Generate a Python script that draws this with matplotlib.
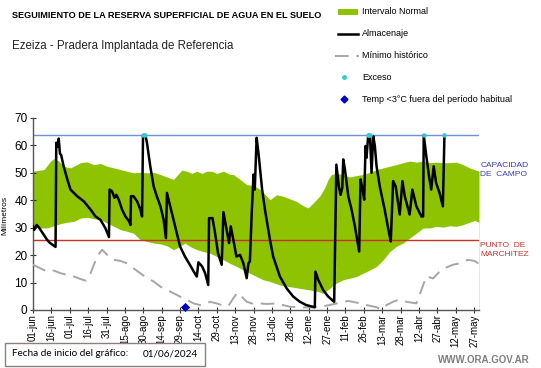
import matplotlib
matplotlib.use("Agg")
import matplotlib.pyplot as plt
from matplotlib.lines import Line2D

plt.rcParams['font.family'] = ['Liberation Sans', 'DejaVu Sans']

# ---------------- data ----------------
tick_days = list(range(0, 361, 15))
tick_labels = ["01-jun", "16-jun", "01-jul", "16-jul", "31-jul", "15-ago", "30-ago",
               "14-sep", "29-sep", "14-oct", "29-oct", "13-nov", "28-nov", "13-dic",
               "28-dic", "12-ene", "27-ene", "11-feb", "26-feb", "13-mar", "28-mar",
               "12-abr", "27-abr", "12-may", "27-may"]

capacidad_campo = 63.8
punto_marchitez = 25.4

alm_days = [0, 1, 3, 5, 8, 11.5, 14, 18.4, 19, 20, 21, 22, 23, 25, 28, 30.6, 36, 41.5, 47, 51,
            55, 59, 62, 62.5, 64.5, 66.5, 68, 70, 72.7, 75.4, 78.5, 79.5, 80, 82, 85, 87.6, 89,
            89.8, 91.7, 93, 95.7, 98.5, 101, 104, 106.6, 108.5, 109.3, 112, 114.7, 117.4, 120,
            124, 128, 132, 133.7, 135, 138, 140.5, 143, 143.7, 146.5, 148.6, 151, 154, 155.4,
            158, 160, 161.4, 163.5, 166, 169, 171.7, 174.4, 175.8, 177, 178.5, 180, 181, 182.5,
            184, 187, 189.3, 193.4, 196, 201.5, 207, 212.4, 217.8, 223, 230, 230.5, 232.8,
            236.8, 240.9, 245.8, 247.6, 249.6, 251, 252.4, 253.2, 254.6, 257.3, 260, 262.7,
            264.6, 266.2, 267.3, 269, 270.3, 271.4, 272.2, 273.6, 275, 276.3, 277.7, 279,
            280.4, 283, 287, 290.6, 292, 293.9, 296, 299.3, 301.5, 303.4, 307.4, 309.6, 312.9,
            317, 318.4, 318.9, 321, 323.2, 325, 327, 329, 331.8, 334.5, 335.8]
alm_vals = [30.5, 29.2, 31, 30, 28, 25.6, 24.4, 23, 61, 59.5, 62.5, 57, 56.5, 52.4, 47.6, 43.9,
            41.5, 39.6, 36.6, 34.1, 32.9, 29.9, 26.6, 43.9, 43.3, 40.9, 42, 40.2, 36.6, 34.1,
            32.3, 31, 41.5, 41.5, 39.6, 36.6, 34.1, 63.8, 63.8, 61, 52.4, 45, 41.5, 37.8, 32.9,
            26.2, 42.7, 37.8, 32.9, 28, 23.2, 19.5, 16.5, 13.4, 12.2, 17.4, 15.9, 13.4, 9.1,
            33.5, 33.5, 28, 20.7, 16.5, 35.7, 29.3, 24.4, 30.5, 25.6, 19.5, 20.1, 17, 11.6, 17,
            17.7, 35.4, 49.4, 43.9, 62.8, 57.3, 43.9, 36.6, 25.6, 19.5, 12.2, 7.9, 4.9, 3.0,
            1.8, 1.0, 14, 11, 7.3, 4.9, 3.0, 53, 45.1, 42, 44.5, 54.9, 51.2, 41.5, 36.6, 30.5,
            25.6, 21.3, 47.6, 43.9, 40.2, 59.8, 55.5, 63.8, 63.8, 50, 63.4, 59.8, 52.4, 45.1,
            36.6, 28, 25, 47, 45.1, 34.8, 47, 41.5, 34.8, 43.9, 37.8, 34.1, 34.1, 63.8, 56.1,
            48.8, 43.9, 52.4, 46.3, 42.7, 37.8, 63.8]

upper_days = [0, 9, 14.4, 17, 21, 25, 30.6, 38.8, 44, 49.6, 55, 60.5, 66, 71.3, 76.8, 82, 87.6,
              93, 98.5, 104, 109.3, 114.7, 117.4, 121.5, 125.6, 129.6, 133.7, 137.8, 141.8, 146,
              150, 155.4, 160.8, 163.5, 169, 174.4, 180, 185, 190.7, 193.4, 198.8, 204, 209.7,
              215, 220.5, 224.6, 228.6, 234, 238, 240.9, 243.6, 247.6, 253, 258.5, 264, 269.4,
              275, 280.4, 285.8, 291.2, 296.6, 302, 307.4, 312.9, 318.4, 323.8, 329.2, 334.6,
              340, 345.5, 350.9, 356.4, 364]
upper_vals = [50.6, 51.2, 54.3, 55.2, 54.3, 52.4, 51.8, 53.7, 54, 53, 53.4, 52.4, 51.8, 51.2,
              50.6, 50, 50.2, 50, 50.2, 49.4, 48.5, 47.6, 49, 51, 50.6, 49.8, 50.6, 49.8, 50.6,
              50.6, 49.8, 50.6, 49.4, 49.4, 47.6, 45.7, 45.4, 44.1, 41.5, 40.2, 42, 41.5, 40.5,
              39.6, 38, 37.2, 39, 41.5, 44.5, 47.6, 49.4, 49.8, 49.4, 48.5, 49, 49.4, 50.2, 51.2,
              51.8, 52.4, 53, 53.7, 54.3, 53.9, 54.3, 53.7, 53.9, 53.7, 53.7, 53.9, 53, 51.8,
              50.6]

lower_days = [0, 6, 11.7, 17, 22.5, 28, 33.4, 38.8, 44.2, 49.6, 55, 60.5, 66, 71.3, 76.8, 82,
              87.6, 93, 98.5, 104, 109.3, 114.7, 120, 124, 128, 133.7, 139, 144.6, 150, 155.4,
              160.8, 166, 171.7, 177, 182.5, 188, 193.4, 201.5, 209.7, 217.8, 226, 232.8, 236.8,
              242.3, 247.6, 253, 258.5, 264, 269.4, 275, 280.4, 285.8, 291.2, 296.6, 302, 307.4,
              312.9, 318.4, 323.8, 329.2, 334.6, 340, 345.5, 350.9, 356.4, 360.5, 364]
lower_vals = [30.5, 29.9, 29.9, 30.7, 31.5, 32, 32.3, 33.5, 33.8, 33.3, 32.9, 31.7, 30.5, 29.3,
              28.7, 28, 25.6, 25, 24.4, 24.1, 23.4, 22, 23.2, 24.4, 23.2, 22, 21.3, 20.7, 19.5,
              18.3, 17, 15.9, 14.6, 13.4, 12.2, 11, 10.4, 9.1, 8.5, 7.9, 7.3, 6.7, 6.1, 7.9, 9.8,
              11, 11.6, 12.2, 13.4, 14.6, 15.9, 18.3, 21.3, 23.2, 24.4, 26.2, 28, 29.9, 29.9,
              30.5, 30.2, 30.7, 30.5, 31.1, 32, 32.6, 32]

min_days = [0, 6, 11.7, 17, 22.5, 28, 33.4, 38.8, 42.9, 47, 52.3, 56.4, 60.5, 66, 71.3, 76.8,
            82, 87.6, 93, 98.5, 104, 109.3, 114.7, 120, 125.6, 131, 136.4, 141.8, 144.6, 150,
            155.4, 159.5, 163.5, 166.8, 169, 174.4, 180, 185, 190.7, 198.8, 204, 209.7, 217.8,
            228.6, 234, 242.3, 250.5, 257.3, 264, 272.2, 280.4, 284.5, 288.5, 293.9, 298, 304.8,
            312.9, 317, 321, 326.5, 331.8, 337.3, 342.7, 348.1, 354.9, 360.4, 364]
min_vals = [16.5, 15.2, 14, 14.4, 13.4, 12.8, 12.2, 11.3, 10.7, 13.4, 19.5, 22, 20.1, 18.3,
            17.9, 17, 15.2, 13.4, 11.6, 10.4, 8.5, 7.3, 6.1, 4.9, 3.7, 2.4, 1.8, 2.4, 3, 2.4,
            1.6, 1.5, 4.3, 6.3, 5.5, 3, 2.2, 2.4, 2.2, 2.4, 1.8, 1.2, 1, 0.9, 1.2, 1.8, 2.7, 3.3,
            2.7, 1.8, 1, 0.2, 1.8, 3, 3.7, 3, 2.4, 7.3, 12.3, 11.5, 14, 15.5, 16.5, 17, 18.3,
            17.9, 16.8]

exceso_days = [90, 91, 273.6, 274.3, 275, 318.9, 335.8]
exceso_vals = [63.8, 63.8, 63.8, 63.8, 63.8, 63.8, 63.8]

temp_days = [123.7]
temp_vals = [1.0]

# ---------------- figure ----------------
W, H = 541, 368
fig = plt.figure(figsize=(W / 100, H / 100), dpi=100)
ax = fig.add_axes([33 / W, 1 - 310 / H, (479 - 33) / W, (310 - 118) / H])

green = '#8DC300'
ax.fill_between(upper_days, upper_vals, 0, color=green, lw=0, zorder=1)
ax.fill_between(lower_days, lower_vals, 0, color='white', lw=0, zorder=1.5)

ax.axhline(capacidad_campo, color='#6F93D6', lw=1.0, zorder=2)
ax.axhline(punto_marchitez, color='#C8322A', lw=1.0, zorder=2)

ax.plot(min_days, min_vals, color='#A6A6A6', lw=1.4, dashes=(7, 4), zorder=3)
ax.plot(alm_days, alm_vals, color='black', lw=1.8, zorder=4)
ax.scatter(exceso_days, exceso_vals, s=10, color='#33CCCC', zorder=5, lw=0)
ax.scatter(temp_days, temp_vals, s=22, marker='D', color='#0000CC', zorder=5, lw=0,
           clip_on=False)

ax.set_xlim(0, 364)
ax.set_ylim(0, 70)
ax.set_xticks(tick_days)
ax.set_xticklabels(tick_labels, rotation=90, fontsize=7)
ax.set_yticks(range(0, 71, 10))
ax.tick_params(axis='y', labelsize=8.5, direction='inout', length=4, width=0.8,
               colors='#333333', pad=2)
ax.tick_params(axis='x', direction='inout', length=4, width=0.8, pad=1, colors='#333333')
for lab in ax.get_xticklabels() + ax.get_yticklabels():
    lab.set_color('black')
for s in ['top', 'right']:
    ax.spines[s].set_visible(False)
for s in ['left', 'bottom']:
    ax.spines[s].set_color('#555555')
    ax.spines[s].set_linewidth(1.0)
ax.set_ylabel('Milímetros', fontsize=6)
ax.yaxis.set_label_coords(-25 / 446, 0.49)

# side labels
ax.text(1.003, 0.73, 'CAPACIDAD\nDE  CAMPO', transform=ax.transAxes, fontsize=6,
        color='#3A3AB0', va='center', ha='left', linespacing=1.4)
ax.text(1.003, 0.315, 'PUNTO  DE\nMARCHITEZ', transform=ax.transAxes, fontsize=6,
        color='#C8322A', va='center', ha='left', linespacing=1.4)

# titles
fig.text(12 / W, 1 - 15 / H, 'SEGUIMIENTO DE LA RESERVA SUPERFICIAL DE AGUA EN EL SUELO',
         fontsize=6.6, fontweight='bold', va='center', ha='left')
fig.text(12 / W, 1 - 46 / H, 'Ezeiza - Pradera Implantada de Referencia',
         fontsize=8.3, va='center', ha='left', color='#222222')

# legend (manual placement)
lx0, lx1, tx = 338 / W, 358 / W, 362 / W
fig.patches.append(plt.Rectangle((lx0, 1 - 15 / H), lx1 - lx0, 6 / H, transform=fig.transFigure,
                                 color=green, lw=0))
fig.text(tx, 1 - 12 / H, 'Intervalo Normal', fontsize=6.5, va='center', ha='left')
fig.lines.append(Line2D([lx0, lx1], [1 - 34 / H, 1 - 34 / H], transform=fig.transFigure,
                        color='black', lw=1.8))
fig.text(tx, 1 - 34 / H, 'Almacenaje', fontsize=6.5, va='center', ha='left')
fig.lines.append(Line2D([335 / W, 359 / W], [1 - 56 / H, 1 - 56 / H], transform=fig.transFigure,
                        color='#A6A6A6', lw=1.4, dashes=(7, 4)))
fig.text(tx, 1 - 56 / H, 'Mínimo histórico', fontsize=6.5, va='center', ha='left')
fig.lines.append(Line2D([344 / W], [1 - 77 / H], transform=fig.transFigure, marker='o',
                        markersize=2.5, color='#33CCCC', lw=0))
fig.text(tx, 1 - 77 / H, 'Exceso', fontsize=6.5, va='center', ha='left')
fig.lines.append(Line2D([344 / W], [1 - 99 / H], transform=fig.transFigure, marker='D',
                        markersize=3.5, color='#0000CC', lw=0))
fig.text(tx, 1 - 99 / H, 'Temp <3°C fuera del período habitual', fontsize=6.5,
         va='center', ha='left')

# bottom box
fig.patches.append(plt.Rectangle((5 / W, 1 - 366 / H), 200 / W, 23 / H,
                                 transform=fig.transFigure, facecolor='white',
                                 edgecolor='#8C7F7F', lw=1.0))
fig.text(12 / W, 1 - 354 / H, 'Fecha de inicio del gráfico:', fontsize=7.2,
         va='center', ha='left', family=['Lato', 'DejaVu Sans'])
fig.text(143 / W, 1 - 354 / H, '01/06/2024', fontsize=7.2,
         va='center', ha='left', family=['Lato', 'DejaVu Sans'])
fig.text(530 / W, 1 - 360 / H, 'WWW.ORA.GOV.AR', fontsize=7, fontweight='bold',
         color='#7F7F7F', va='center', ha='right')

fig.savefig('out.png', dpi=100)
